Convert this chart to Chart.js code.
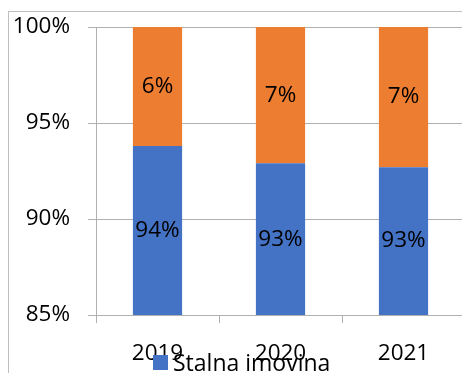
<!DOCTYPE html>
<html>
<head>
<meta charset="utf-8">
<script src="https://cdn.jsdelivr.net/npm/chart.js@4/dist/chart.umd.min.js"></script>
<style>
  html, body { margin: 0; padding: 0; background: #fff; overflow: hidden; width: 462px; height: 373px; }
  #frame { position: absolute; left: 8px; top: 11px; width: 470px; height: 380px; border-left: 1px solid #bfbfbf; border-top: 1px solid #bfbfbf; }
  #c { position: absolute; left: 0; top: 0; }
</style>
</head>
<body>
<div id="frame"></div>
<canvas id="c" width="480" height="400"></canvas>
<script>
const categories = ['2019', '2020', '2021'];
const stalnaImovina = [93.8, 92.9, 92.7];
const obrtnaImovina = [6.2, 7.1, 7.3];
const seriesNames = ['Stalna imovina', 'Obrtna imovina'];
const yTicks = [85, 90, 95, 100];

const FONT = 'Open Sans';

const labelPlugin = {
  id: 'barLabels',
  afterDatasetsDraw(chart) {
    const ctx = chart.ctx;
    const ys = chart.scales.y;
    const area = chart.chartArea;
    ctx.save();
    ctx.font = '22.5px "' + FONT + '"';
    ctx.fillStyle = '#000';
    ctx.textAlign = 'center';
    ctx.textBaseline = 'middle';
    chart.data.datasets.forEach((ds, di) => {
      const meta = chart.getDatasetMeta(di);
      meta.data.forEach((bar, i) => {
        let start = 0;
        for (let k = 0; k < di; k++) start += chart.data.datasets[k].data[i];
        const end = start + ds.data[i];
        const yTop = Math.max(ys.getPixelForValue(end), area.top);
        const yBot = Math.min(ys.getPixelForValue(start), area.bottom);
        ctx.fillText(Math.round(ds.data[i]) + '%', bar.x, (yTop + yBot) / 2);
      });
    });
    ctx.restore();
  }
};

const legendPlugin = {
  id: 'customLegend',
  afterDraw(chart) {
    const ctx = chart.ctx;
    const ds = chart.data.datasets[0];
    ctx.save();
    ctx.fillStyle = ds.backgroundColor;
    ctx.fillRect(153, 355, 15, 15);
    ctx.font = '23px "' + FONT + '"';
    ctx.fillStyle = '#000';
    ctx.textAlign = 'left';
    ctx.textBaseline = 'alphabetic';
    ctx.fillText(ds.label, 173, 371);
    ctx.restore();
  }
};

new Chart(document.getElementById('c'), {
  type: 'bar',
  data: {
    labels: categories,
    datasets: [
      { label: seriesNames[0], data: stalnaImovina, backgroundColor: '#4472C4', borderWidth: 0 },
      { label: seriesNames[1], data: obrtnaImovina, backgroundColor: '#ED7D31', borderWidth: 0 }
    ]
  },
  options: {
    responsive: false,
    animation: false,
    devicePixelRatio: 1,
    layout: { padding: { top: 27, right: 15, left: 0, bottom: 0 } },
    datasets: { bar: { categoryPercentage: 1, barPercentage: 0.4 } },
    plugins: { legend: { display: false }, tooltip: { enabled: false } },
    scales: {
      x: {
        stacked: true,
        offset: true,
        grid: { offset: true, drawOnChartArea: false, drawTicks: true, tickLength: 8, color: '#b0b0b0' },
        border: { display: false },
        ticks: { color: '#000', font: { family: FONT, size: 22.5 }, padding: 17, maxRotation: 0 },
        afterFit(s) { s.height = 85; s.paddingLeft = 0; s.paddingRight = 0; }
      },
      y: {
        stacked: true,
        min: 85,
        max: 100,
        afterBuildTicks(s) { s.ticks = yTicks.map(v => ({ value: v })); },
        grid: { color: '#b0b0b0', tickLength: 8, drawTicks: true },
        border: { display: true, color: '#b0b0b0' },
        ticks: { color: '#000', font: { family: FONT, size: 22.5 }, padding: 18, callback: v => v + '%' },
        afterFit(s) { s.width = 96; s.paddingTop = 0; s.paddingBottom = 0; }
      }
    }
  },
  plugins: [labelPlugin, legendPlugin]
});
</script>
</body>
</html>
